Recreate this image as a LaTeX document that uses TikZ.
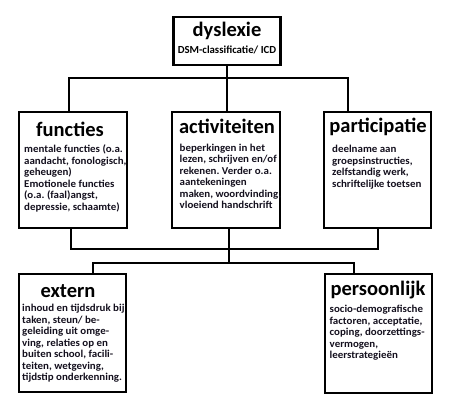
\documentclass[tikz,border=0pt]{standalone}
\usepackage{fontspec}
\setmainfont{Carlito}
\newfontfamily\bodyfont{Carlito}[FakeStretch=1.04]
\usepackage{tikz}
\definecolor{black}{RGB}{0,0,0}
\definecolor{ink}{RGB}{20,16,30}
\frenchspacing

\tikzset{
  box/.style={draw=black,line width=2.6pt,inner sep=0pt,minimum height=116,minimum width=107},
  head/.style={anchor=base,inner sep=0pt,font=\fontsize{20.5}{24}\selectfont\bfseries},
  txt/.style={anchor=north west,inner sep=0pt,align=left,text=ink,font=\bodyfont\fontsize{10.5}{11.5}\selectfont\bfseries},
  link/.style={draw=black,line width=2pt}
}
\newcommand{\fl}{\rule{0pt}{8.5pt}}

\begin{document}
\begin{tikzpicture}[x=1pt,y=-1pt]
	\useasboundingbox (0,0) rectangle (454,406);

	% boxes
	\node[box,minimum height=48] (dys) at (227,41) {};
	\node[box,minimum width=108] (func) at (73,170) {};
	\node[box,minimum width=108] (act) at (226,170) {};
	\node[box] (part) at (377.5,170) {};
	\node[box,minimum height=118] (ext) at (72.5,333) {};
	\node[box,minimum height=119] (pers) at (378.5,333.5) {};

	% titles
	\node[head] (dysT) at (227,37) {dyslexie};
	\node[anchor=base,inner sep=0pt,font=\fontsize{10.8}{12}\selectfont\bfseries] (dysS) at (227,53.5) {DSM-classificatie/ ICD};
	\node[head] (funcT) at (70,136.5) {functies};
	\node[head] (actT) at (227,133.5) {activiteiten};
	\node[head] (partT) at (378,132.5) {participatie};
	\node[head] (extT) at (68,297) {extern};
	\node[head] (persT) at (378,295) {persoonlijk};

	% texts
	\node[txt] (funcB) at (24,144) {\fl mentale functies (o.a.\\aandacht, fonologisch,\\geheugen)\\Emotionele functies\\(o.a. (faal)angst,\\depressie, schaamte)};
	\node[txt] (actB) at (179.5,142.5) {\fl beperkingen in het\\lezen, schrijven en/of\\rekenen. Verder o.a.\\aantekeningen\\maken, woordvinding,\\vloeiend handschrift};
	\node[txt] (partB) at (332,144) {\fl deelname aan\\groepsinstructies,\\zelfstandig werk,\\schriftelijke toetsen};
	\node[txt] (extB) at (22,303.2) {\fl inhoud en tijdsdruk bij\\taken, steun/ be-\\geleiding uit omge-\\ving, relaties op en\\buiten school, facili-\\teiten, wetgeving,\\tijdstip onderkenning.};
	\node[txt] (persB) at (329.5,304.2) {\fl socio-demografische\\factoren, acceptatie,\\coping, doorzettings-\\vermogen,\\leerstrategieën};

	% junctions
	\coordinate (j1) at (227,78);
	\coordinate (j1l) at (69,78);
	\coordinate (j1r) at (348,78);
	\coordinate (j2) at (228.5,249);
	\coordinate (j2l) at (71,249);
	\coordinate (j2r) at (378,249);
	\coordinate (j3) at (228.5,263);
	\coordinate (j3l) at (93,263);
	\coordinate (j3r) at (354,263);

	% connectors
	\draw[link] (dys.south) -- (j1 |- act.north);
	\draw[link] (j1l |- func.north) -- (j1l) -- (j1r) -- (j1r |- part.north);
	\draw[link] (j2l |- func.south) -- (j2l) -- (j2r) -- (j2r |- part.south);
	\draw[link] (j2 |- act.south) -- (j3);
	\draw[link] (j3l |- ext.north) -- (j3l) -- (j3r) -- (j3r |- pers.north);
\end{tikzpicture}
\end{document}
